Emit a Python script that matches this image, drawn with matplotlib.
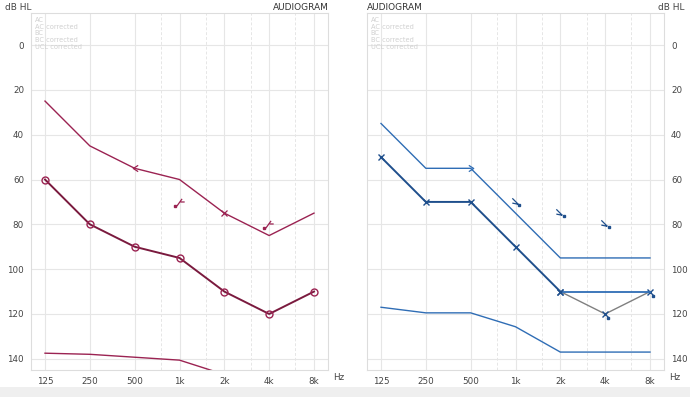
import matplotlib
matplotlib.use("Agg")
import matplotlib.pyplot as plt
from matplotlib.path import Path
from matplotlib.patches import Rectangle

# ---- data ----
freqs = [125, 250, 500, 1000, 2000, 4000, 8000]
freq_labels = ['125', '250', '500', '1k', '2k', '4k', '8k']
half_freqs = [750, 1500, 3000, 6000]
db_ticks = [0, 20, 40, 60, 80, 100, 120, 140]
legend_items = ['AC', 'AC corrected', 'BC', 'BC corrected', 'UCL corrected']

left_upper = [25, 45, 55, 60, 75, 85, 75]
left_ac = [60, 80, 90, 95, 110, 120, 110]
left_ucl_freqs = [125, 250, 500, 1000, 2000]
left_ucl = [137.5, 138, 139.3, 140.6, 147]
left_bc_freqs = [1000, 4000]
left_bc = [70, 80]

right_upper = [35, 55, 55, 75, 95, 95, 95]
right_ac_freqs = [125, 250, 500, 1000, 2000]
right_ac = [50, 70, 70, 90, 110]
right_corr_freqs = [2000, 8000]
right_corr = [110, 110]
right_gray_freqs = [2000, 4000, 8000]
right_gray = [110, 120, 110]
right_ucl = [117, 119.5, 119.5, 125.7, 137, 137, 137]
right_bc_freqs = [1000, 2000, 4000]
right_bc = [70, 75, 80]

RED = '#9b2352'
RED_D = '#7a1a3e'
BLUE = '#2f6db5'
BLUE_D = '#1f4f8c'
GRID = '#e6e6e6'
TXT = '#444444'

fig = plt.figure(figsize=(6.9, 3.97), dpi=100)
fig.patch.set_facecolor('white')
fig.patches.append(Rectangle((0, 0), 1, 10 / 397, transform=fig.transFigure,
                             facecolor='#efefef', edgecolor='none', zorder=0))

xmin = 125 * 2 ** (-14 / 44.8)
xmax = 8000 * 2 ** (14 / 44.8)
W = 297 / 690
ax_l = fig.add_axes([31 / 690, 27 / 397, W, 357 / 397])
ax_r = fig.add_axes([367 / 690, 27 / 397, W, 357 / 397])

# custom markers
lt_marker = Path([(0.6, 0.7), (-0.5, 0.0), (0.6, -0.7)], [Path.MOVETO, Path.LINETO, Path.LINETO])
gt_marker = Path([(-0.6, 0.7), (0.5, 0.0), (-0.6, -0.7)], [Path.MOVETO, Path.LINETO, Path.LINETO])
bc_left = Path([(-0.7, -0.7), (0.3, 0.7), (0.0, 0.1), (0.8, 0.1)],
               [Path.MOVETO, Path.LINETO, Path.MOVETO, Path.LINETO])
bc_right = Path([(-0.7, 0.7), (0.3, -0.3), (-0.7, -0.1), (0.3, -0.3)],
                [Path.MOVETO, Path.LINETO, Path.MOVETO, Path.LINETO])

for ax, side in ((ax_l, 'left'), (ax_r, 'right')):
    ax.set_xscale('log', base=2)
    ax.set_xlim(xmin, xmax)
    ax.set_ylim(145, -14.3)
    ax.set_xticks(freqs)
    ax.set_xticklabels(freq_labels)
    ax.minorticks_off()
    ax.set_yticks(db_ticks)
    ax.tick_params(length=0, labelsize=6.3, colors=TXT, pad=5)
    for f in freqs:
        ax.axvline(f, color=GRID, lw=0.8, zorder=0)
    for f in half_freqs:
        ax.axvline(f, color=GRID, lw=0.7, ls=(0, (3, 2)), zorder=0)
    for d in db_ticks:
        ax.axhline(d, color=GRID, lw=0.8, zorder=0)
    for s in ax.spines.values():
        s.set_color('#dddddd')
        s.set_linewidth(0.8)
    if side == 'right':
        ax.yaxis.tick_right()
    x0 = 0.012
    for i, t in enumerate(legend_items):
        ax.text(x0, 0.988 - i * 0.0185, t, transform=ax.transAxes, fontsize=4.8,
                color='#d0d0d0', va='top', ha='left')

# left panel
ax_l.plot(freqs, left_upper, color=RED, lw=1.0)
ax_l.plot([500], [55], marker=lt_marker, ms=4.5, color=RED, mfc='none', mew=0.9, ls='none')
ax_l.plot([2000], [75], marker='x', ms=5, color=RED, mew=0.9, ls='none')
ax_l.plot(freqs, left_ac, color=RED_D, lw=1.4, marker='o', ms=5,
          mfc='none', mec=RED, mew=1.0)
ax_l.plot(left_ucl_freqs, left_ucl, color=RED, lw=1.0, clip_on=True)
ax_l.plot(left_bc_freqs, left_bc, marker=bc_left, ms=6, color=RED, mfc='none', mew=0.9, ls='none')
ax_l.plot([f * 0.93 for f in left_bc_freqs], [v + 1.8 for v in left_bc], marker='s',
          ms=1.5, color=RED, ls='none')

# right panel
ax_r.plot(freqs, right_upper, color=BLUE, lw=1.0)
ax_r.plot([500], [55], marker=gt_marker, ms=4.5, color=BLUE, mfc='none', mew=0.9, ls='none')
ax_r.plot(right_gray_freqs, right_gray, color='#808080', lw=1.0, marker='x', ms=5,
          mec=BLUE_D, mew=1.0)
ax_r.plot(right_corr_freqs, right_corr, color=BLUE, lw=1.3)
ax_r.plot(right_ac_freqs, right_ac, color=BLUE_D, lw=1.4, marker='x', ms=5, mew=1.0)
ax_r.plot([4000 * 1.05, 8000 * 1.05], [121.8, 111.8], marker='s', ms=1.5, color=BLUE_D,
          ls='none')
ax_r.plot(freqs, right_ucl, color=BLUE, lw=1.0)
ax_r.plot(right_bc_freqs, right_bc, marker=bc_right, ms=6, color=BLUE_D, mfc='none', mew=0.9, ls='none')
ax_r.plot([f * 1.06 for f in right_bc_freqs], [v + 1.3 for v in right_bc], marker='s',
          ms=1.5, color=BLUE_D, ls='none')

# labels
fig.text(5 / 690, 1 - 8 / 397, 'dB HL', fontsize=6.5, color=TXT, va='center', ha='left')
fig.text(685 / 690, 1 - 8 / 397, 'dB HL', fontsize=6.5, color=TXT, va='center', ha='right')
fig.text(329 / 690, 1 - 7 / 397, 'AUDIOGRAM', fontsize=6.5, color='#333333', va='center', ha='right')
fig.text(367 / 690, 1 - 7 / 397, 'AUDIOGRAM', fontsize=6.5, color='#333333', va='center', ha='left')
fig.text(333 / 690, 1 - 378 / 397, 'Hz', fontsize=6.3, color=TXT, va='center', ha='left')
fig.text(669 / 690, 1 - 378 / 397, 'Hz', fontsize=6.3, color=TXT, va='center', ha='left')

fig.savefig('out.png', dpi=100)
